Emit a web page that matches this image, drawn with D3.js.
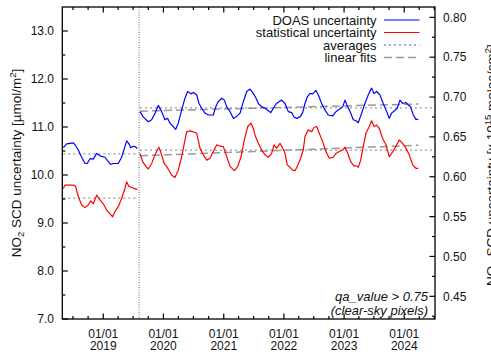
<!DOCTYPE html>
<html><head><meta charset="utf-8">
<script src="https://cdn.jsdelivr.net/npm/d3@7"></script>
<style>body{margin:0;background:#fff} svg{display:block;font-family:"Liberation Sans",Arial,Helvetica,sans-serif}</style>
</head><body><svg id="c" width="491" height="352"></svg>
<script>
// ---- data (time as decimal year, value in µmol/m²) ----
const yearTicks = [2019, 2020, 2021, 2022, 2023, 2024];
const leftTicks = [7, 8, 9, 10, 11, 12, 13];
const rightTicks = [0.45, 0.50, 0.55, 0.60, 0.65, 0.70, 0.75, 0.80];
const xRange = [2018.319, 2024.510];
const processorChange = 2019.596;
const unitFactor = 0.06022; // µmol/m² -> 1e15 molec/cm²

const doasPhase1 = [[2018.336,10.57],[2018.392,10.65],[2018.447,10.66],[2018.502,10.67],[2018.530,10.63],[2018.585,10.52],[2018.641,10.37],[2018.696,10.24],[2018.734,10.24],[2018.779,10.34],[2018.834,10.33],[2018.890,10.45],[2018.945,10.40],[2019.028,10.37],[2019.083,10.28],[2019.123,10.22],[2019.166,10.24],[2019.249,10.24],[2019.305,10.37],[2019.360,10.59],[2019.389,10.71],[2019.427,10.65],[2019.455,10.57],[2019.498,10.60],[2019.543,10.58],[2019.565,10.55]];
const doasPhase2 = [[2019.610,11.32],[2019.664,11.21],[2019.748,11.11],[2019.804,11.15],[2019.859,11.28],[2019.914,11.45],[2019.970,11.32],[2020.025,11.15],[2020.069,11.18],[2020.108,11.08],[2020.163,11.01],[2020.203,10.95],[2020.246,11.08],[2020.302,11.35],[2020.357,11.60],[2020.402,11.74],[2020.457,11.69],[2020.495,11.72],[2020.551,11.67],[2020.590,11.49],[2020.635,11.39],[2020.689,11.29],[2020.744,11.25],[2020.827,11.25],[2020.867,11.42],[2020.910,11.53],[2020.967,11.60],[2021.010,11.56],[2021.050,11.42],[2021.105,11.32],[2021.159,11.18],[2021.216,11.22],[2021.271,11.29],[2021.326,11.53],[2021.382,11.74],[2021.437,11.79],[2021.492,11.70],[2021.537,11.60],[2021.575,11.49],[2021.631,11.42],[2021.686,11.39],[2021.741,11.34],[2021.781,11.30],[2021.824,11.39],[2021.869,11.48],[2021.924,11.53],[2021.963,11.56],[2022.018,11.49],[2022.073,11.32],[2022.130,11.30],[2022.168,11.21],[2022.213,11.18],[2022.267,11.21],[2022.312,11.30],[2022.350,11.49],[2022.389,11.63],[2022.434,11.70],[2022.478,11.69],[2022.533,11.76],[2022.571,11.67],[2022.628,11.49],[2022.683,11.35],[2022.738,11.25],[2022.811,11.23],[2022.865,11.32],[2022.920,11.37],[2022.977,11.42],[2023.015,11.56],[2023.053,11.44],[2023.098,11.33],[2023.153,11.15],[2023.198,11.13],[2023.236,11.09],[2023.292,11.29],[2023.347,11.49],[2023.402,11.67],[2023.458,11.81],[2023.497,11.70],[2023.542,11.74],[2023.596,11.67],[2023.651,11.49],[2023.708,11.32],[2023.751,11.18],[2023.791,11.29],[2023.846,11.35],[2023.884,11.39],[2023.929,11.56],[2023.973,11.49],[2024.028,11.51],[2024.066,11.46],[2024.106,11.42],[2024.150,11.25],[2024.194,11.16],[2024.233,11.16]];
const statPhase1 = [[2018.336,9.72],[2018.364,9.79],[2018.419,9.79],[2018.502,9.79],[2018.541,9.76],[2018.585,9.55],[2018.641,9.375],[2018.696,9.32],[2018.751,9.375],[2018.791,9.46],[2018.834,9.40],[2018.890,9.58],[2018.945,9.48],[2019.000,9.40],[2019.056,9.27],[2019.111,9.19],[2019.156,9.13],[2019.194,9.24],[2019.249,9.34],[2019.305,9.51],[2019.360,9.72],[2019.389,9.86],[2019.427,9.76],[2019.472,9.74],[2019.510,9.72],[2019.565,9.70]];
const statPhase2 = [[2019.610,10.45],[2019.654,10.28],[2019.709,10.18],[2019.748,10.125],[2019.804,10.24],[2019.859,10.42],[2019.925,10.58],[2019.970,10.42],[2020.013,10.24],[2020.053,10.18],[2020.091,10.10],[2020.136,10.00],[2020.191,9.95],[2020.246,10.10],[2020.302,10.38],[2020.346,10.66],[2020.385,10.90],[2020.440,10.92],[2020.495,10.90],[2020.551,10.87],[2020.606,10.56],[2020.661,10.42],[2020.718,10.31],[2020.772,10.35],[2020.827,10.49],[2020.884,10.63],[2020.939,10.60],[2020.993,10.59],[2021.050,10.38],[2021.105,10.18],[2021.176,10.09],[2021.233,10.18],[2021.287,10.38],[2021.342,10.73],[2021.399,11.01],[2021.453,11.08],[2021.492,10.97],[2021.520,10.83],[2021.575,10.66],[2021.631,10.52],[2021.686,10.42],[2021.741,10.37],[2021.797,10.45],[2021.836,10.63],[2021.880,10.56],[2021.935,10.66],[2021.980,10.56],[2022.018,10.45],[2022.056,10.21],[2022.101,10.16],[2022.146,10.10],[2022.184,10.09],[2022.223,10.18],[2022.279,10.35],[2022.322,10.52],[2022.350,10.80],[2022.405,10.94],[2022.462,10.90],[2022.500,10.99],[2022.545,11.01],[2022.588,10.87],[2022.645,10.69],[2022.699,10.49],[2022.754,10.35],[2022.821,10.37],[2022.865,10.45],[2022.920,10.49],[2022.977,10.52],[2023.015,10.58],[2023.053,10.48],[2023.110,10.28],[2023.164,10.19],[2023.209,10.19],[2023.236,10.16],[2023.276,10.31],[2023.319,10.59],[2023.364,10.87],[2023.419,11.01],[2023.458,11.13],[2023.497,11.01],[2023.542,11.04],[2023.585,10.97],[2023.641,10.76],[2023.696,10.63],[2023.751,10.38],[2023.791,10.45],[2023.846,10.56],[2023.917,10.73],[2023.973,10.66],[2024.028,10.56],[2024.083,10.42],[2024.140,10.21],[2024.194,10.14],[2024.233,10.14]];

const averagesDoas = [10.44, 11.40];   // phase 1, phase 2
const averagesStat = [9.52, 10.52];
const fitDoas = [11.33, 11.48];        // phase 2 linear fit: start, end
const fitStat = [10.40, 10.62];

const legendLabels = ["DOAS uncertainty", "statistical uncertainty", "averages", "linear fits"];

// ---- helpers ----
function decYear(t){ const y = Math.floor(t); const s = Date.UTC(y,0,1), e = Date.UTC(y+1,0,1); return new Date(s + (t - y) * (e - s)); }

const W = 491, H = 352;
const L = 62.3, R = 435, T = 7, B = 319;
const svg = d3.select("#c");

const x = d3.scaleUtc().domain(xRange.map(decYear)).range([L, R]);
const y = d3.scaleLinear().domain([7, 13.5]).range([B, T]);
const y2 = d3.scaleLinear().domain([7 * unitFactor, 13.5 * unitFactor]).range([B, T]);

const ink = "#000";
const g = svg.append("g");

// vertical dotted line (processor change)
g.append("line").attr("x1", x(decYear(processorChange))).attr("x2", x(decYear(processorChange)))
  .attr("y1", T).attr("y2", B).attr("stroke", "#666").attr("stroke-width", 1).attr("stroke-dasharray", "1,1.5");

// averages (dotted)
const avgStyle = s => s.attr("stroke", "#999").attr("stroke-width", 1.3).attr("stroke-dasharray", "2,3").attr("fill","none");
const p1s = doasPhase1[0][0], p1e = doasPhase1[doasPhase1.length-1][0];
const p2s = doasPhase2[0][0], p2e = doasPhase2[doasPhase2.length-1][0];
[[averagesDoas[0], p1s, p1e], [averagesStat[0], p1s, p1e], [averagesDoas[1], p2s, xRange[1]], [averagesStat[1], p2s, xRange[1]]]
  .forEach(([v, a, b]) => g.append("line").attr("x1", x(decYear(a))).attr("x2", x(decYear(b))).attr("y1", y(v)).attr("y2", y(v)).call(avgStyle));

// linear fits (dashed)
const fitStyle = s => s.attr("stroke", "#999").attr("stroke-width", 1.5).attr("stroke-dasharray", "8,4").attr("fill","none");
[fitDoas, fitStat].forEach(f => g.append("line").attr("x1", x(decYear(p2s))).attr("x2", x(decYear(p2e))).attr("y1", y(f[0])).attr("y2", y(f[1])).call(fitStyle));

// series
const line = d3.line().x(d => x(decYear(d[0]))).y(d => y(d[1]));
[[doasPhase1, "#0000ff"], [doasPhase2, "#0000ff"], [statPhase1, "#ff0000"], [statPhase2, "#ff0000"]].forEach(([d, c]) =>
  g.append("path").datum(d).attr("d", line).attr("fill", "none").attr("stroke", c).attr("stroke-width", 1.2).attr("stroke-linejoin", "round"));

// frame
svg.append("rect").attr("x", L).attr("y", T).attr("width", R - L).attr("height", B - T)
  .attr("fill", "none").attr("stroke", ink).attr("stroke-width", 1.3);

// x ticks (bottom & top, inward)
const years = yearTicks.map(v => new Date(Date.UTC(v, 0, 1)));
const minorX = d3.utcMonth.every(3).range(x.domain()[0], x.domain()[1]).filter(d => d.getUTCMonth() !== 0);
const tk = svg.append("g").attr("stroke", ink).attr("stroke-width", 1.2);
years.forEach(d => { const px = x(d);
  tk.append("line").attr("x1", px).attr("x2", px).attr("y1", B).attr("y2", B - 5.5);
  tk.append("line").attr("x1", px).attr("x2", px).attr("y1", T).attr("y2", T + 5.5); });
minorX.forEach(d => { const px = x(d);
  tk.append("line").attr("x1", px).attr("x2", px).attr("y1", B).attr("y2", B - 3);
  tk.append("line").attr("x1", px).attr("x2", px).attr("y1", T).attr("y2", T + 3); });
// left ticks
leftTicks.forEach(v => tk.append("line").attr("x1", L).attr("x2", L + 5.5).attr("y1", y(v)).attr("y2", y(v)));
d3.range(7.5, 13.5, 1).forEach(v => tk.append("line").attr("x1", L).attr("x2", L + 3).attr("y1", y(v)).attr("y2", y(v)));
// right ticks
rightTicks.forEach(v => tk.append("line").attr("x1", R).attr("x2", R - 5.5).attr("y1", y2(v)).attr("y2", y2(v)));
[0.425,0.475,0.525,0.575,0.625,0.675,0.725,0.775].forEach(v => tk.append("line").attr("x1", R).attr("x2", R - 3).attr("y1", y2(v)).attr("y2", y2(v)));

// tick labels
const lab = svg.append("g").attr("font-size", 12).attr("fill", "#111");
years.forEach((d, i) => {
  lab.append("text").attr("x", x(d)).attr("y", 337.5).attr("text-anchor", "middle").text("01/01");
  lab.append("text").attr("x", x(d)).attr("y", 349.5).attr("text-anchor", "middle").text(yearTicks[i]);
});
leftTicks.forEach(v => lab.append("text").attr("x", 54).attr("y", y(v) + 4.3).attr("text-anchor", "end").text(d3.format(".1f")(v)));
rightTicks.forEach(v => lab.append("text").attr("x", 443).attr("y", y2(v) + 4.3).attr("text-anchor", "start").text(d3.format(".2f")(v)));

// axis titles
const lt = svg.append("text").attr("transform", `translate(20.5,${(T+B)/2}) rotate(-90)`).attr("text-anchor", "middle").attr("font-size", 13.5).attr("fill", "#111");
lt.append("tspan").text("NO");
lt.append("tspan").attr("font-size", 9.5).attr("dy", 3.5).text("2");
lt.append("tspan").attr("dy", -3.5).text(" SCD uncertainty  [µmol/m");
lt.append("tspan").attr("font-size", 9.5).attr("dy", -5).text("2");
lt.append("tspan").attr("dy", 5).text("]");

const rt = svg.append("text").attr("transform", `translate(495.5,${(T+B)/2 + 2}) rotate(-90)`).attr("text-anchor", "middle").attr("font-size", 13.5).attr("fill", "#111");
rt.append("tspan").text("NO");
rt.append("tspan").attr("font-size", 9.5).attr("dy", 3.5).text("2");
rt.append("tspan").attr("dy", -3.5).text(" SCD uncertainty  [x 10");
rt.append("tspan").attr("font-size", 9.5).attr("dy", -5).text("15");
rt.append("tspan").attr("dy", 5).text(" molec/cm");
rt.append("tspan").attr("font-size", 9.5).attr("dy", -5).text("2");
rt.append("tspan").attr("dy", 5).text("]");

// legend
const lg = svg.append("g").attr("font-size", 13).attr("fill", "#111");
const legRows = [20, 32.5, 45, 57.5];
legendLabels.forEach((t, i) => lg.append("text").attr("x", 376.5).attr("y", legRows[i] + 4.5).attr("text-anchor", "end").text(t));
lg.append("line").attr("x1", 384).attr("x2", 419.5).attr("y1", legRows[0]).attr("y2", legRows[0]).attr("stroke", "#0000ff").attr("stroke-width", 1.2);
lg.append("line").attr("x1", 384).attr("x2", 419.5).attr("y1", legRows[1]).attr("y2", legRows[1]).attr("stroke", "#ff0000").attr("stroke-width", 1.2);
lg.append("line").attr("x1", 384).attr("x2", 419.5).attr("y1", legRows[2]).attr("y2", legRows[2]).call(avgStyle);
lg.append("line").attr("x1", 384).attr("x2", 419.5).attr("y1", legRows[3]).attr("y2", legRows[3]).call(fitStyle);

// annotation
const an = svg.append("g").attr("font-size", 13).attr("font-style", "italic").attr("fill", "#111").attr("text-anchor", "end");
an.append("text").attr("x", 428).attr("y", 300.5).text("qa_value > 0.75");
an.append("text").attr("x", 428).attr("y", 314.5).text("(clear-sky pixels)");
</script></body></html>
